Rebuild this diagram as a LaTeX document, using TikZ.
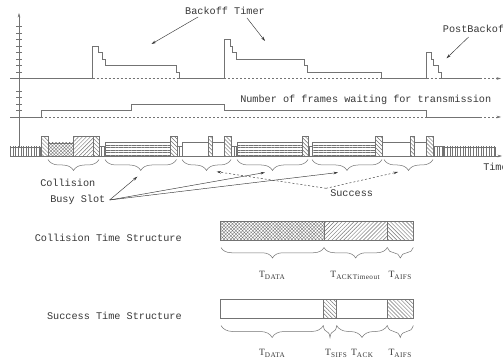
\documentclass[tikz,border=0pt]{standalone}
\usepackage{fontspec}
\setmainfont{Liberation Serif}
\setmonofont{Liberation Mono}
\usepackage{tikz}
\usetikzlibrary{arrows.meta, positioning, decorations.pathreplacing, patterns.meta, calc}

\definecolor{linegray}{gray}{0.45}
\definecolor{textgray}{gray}{0.22}

% T with a small upright subscript
\newcommand{\tsub}[1]{T\raisebox{-0.45ex}{\fontsize{7.2}{8}\selectfont\addfontfeature{LetterSpace=6}#1}}

\begin{document}
\begin{tikzpicture}[x=1pt, y=-1pt, >={Stealth[length=4.5pt, width=2.6pt]}, line width=0.5pt]

% --- Style Definitions ---
% Plot lines
\tikzstyle{plot_line}=[draw=linegray]
\tikzstyle{zero_line}=[draw=linegray, dash pattern=on 2pt off 2pt]
\tikzstyle{axis_arrow}=[->, draw=linegray]
% Text
\tikzstyle{mono_text}=[font=\ttfamily\fontsize{10.2}{12}\selectfont, text=textgray, inner sep=0pt]
\tikzstyle{t_label}=[font=\fontsize{9.6}{11}\selectfont, text=textgray, inner sep=0pt]
% Slots on the time line
\tikzstyle{slot_idle}=[draw=linegray, pattern={Lines[angle=90, distance=2.6pt, line width=0.45pt]}, pattern color=linegray]
\tikzstyle{slot_busy}=[draw=linegray, pattern={Lines[angle=0, distance=2.6pt, line width=0.45pt]}, pattern color=linegray]
\tikzstyle{slot_aifs}=[draw=linegray, pattern={Lines[angle=-45, distance=2.8pt, line width=0.45pt]}, pattern color=linegray]
\tikzstyle{slot_timeout}=[draw=linegray, pattern={Lines[angle=45, distance=2.8pt, line width=0.45pt]}, pattern color=linegray]
\tikzstyle{slot_coll}=[draw=linegray, pattern={Hatch[angle=45, distance=2.4pt, line width=0.35pt]}, pattern color=linegray]
\tikzstyle{slot_empty}=[draw=linegray, fill=white]
% Braces and pointers
\tikzstyle{brace_line}=[draw=linegray, decorate, decoration={brace, mirror, amplitude=11pt}]
\tikzstyle{busy_arrow}=[->, draw=textgray, line width=0.45pt]
\tikzstyle{succ_arrow}=[->, draw=textgray, line width=0.45pt, dash pattern=on 2pt off 2pt]

\fill[white] (0,0) rectangle (503,358);
\useasboundingbox (0,0) rectangle (503,358);

% --- 1. Axis ---
\draw[axis_arrow] (19,148) -- (19,13);
\draw[plot_line] (16,26.5) -- (22,26.5) (16,33) -- (22,33) (16,39.5) -- (22,39.5) (16,46) -- (22,46)
                 (16,52.5) -- (22,52.5) (16,59) -- (22,59) (16,65.5) -- (22,65.5) (16,72) -- (22,72);
\draw[plot_line] (16,91) -- (22,91) (16,97.5) -- (22,97.5) (16,104) -- (22,104) (16,110.5) -- (22,110.5);

% --- 2. Backoff timer ---
\draw[zero_line] (92.5,78.5) -- (179,78.5) (224,78.5) -- (381.5,78.5) (426.7,78.5) -- (441.7,78.5);
\draw[zero_line, ->] (480,78.5) -- (501,78.5);
\draw[plot_line] (10,78.5) -- (92.5,78.5) -- (92.5,46) -- (98.5,46) -- (98.5,52.5) -- (102,52.5) -- (102,59)
  -- (105,59) -- (105,65.5) -- (176,65.5) -- (176,72) -- (179,72) -- (179,78.5)
  -- (224,78.5) -- (224,39.5) -- (230,39.5) -- (230,46) -- (232.5,46) -- (232.5,52.5) -- (236.5,52.5)
  -- (236.5,59) -- (304,59) -- (304,65.5) -- (307,65.5) -- (307,72) -- (381.5,72) -- (381.5,78.5)
  -- (426.7,78.5) -- (426.7,52.5) -- (431.7,52.5) -- (431.7,59) -- (433.7,59) -- (433.7,65.5)
  -- (438,65.5) -- (438,72) -- (441.7,72) -- (441.7,78.5) -- (480,78.5);

\node[mono_text] (backoff) at (225,11) {Backoff Timer};
\node[mono_text, anchor=west] (postbo) at (442.7,29) {PostBackoff};
\coordinate (bo_first) at (151.5,44);
\coordinate (bo_second) at (265,41);
\coordinate (bo_post) at (446.5,58.3);
\draw[busy_arrow] ([xshift=-27pt, yshift=-2pt]backoff.south) -- (bo_first);
\draw[busy_arrow] ([xshift=22pt, yshift=-3pt]backoff.south) -- (bo_second);
\draw[busy_arrow] ([xshift=-8pt, yshift=-4pt]postbo.south) -- (bo_post);

% --- 3. Frames waiting ---
\draw[zero_line] (41,117) -- (426,117);
\draw[zero_line, ->] (480,117) -- (501,117);
\draw[plot_line] (10,117) -- (41,117) -- (41,110.5) -- (131,110.5) -- (131,104) -- (224,104)
  -- (224,110.5) -- (426,110.5) -- (426,117) -- (480,117);
\node[mono_text, anchor=west] (frames) at (240,100) {Number of frames waiting for transmission};

% --- 4. Time line with slots ---
\draw[slot_idle] (10,156) rectangle (40,147);
\draw[slot_aifs] (41,156) rectangle (48,136.5);
\draw[slot_coll] (48,156) rectangle (73,143);
\draw[slot_timeout] (73,156) rectangle (93,136.5);
\draw[slot_aifs] (93,156) rectangle (99,136.5);
\draw[slot_idle] (99,156) rectangle (105,146.5);
\draw[slot_busy] (105,156) rectangle (170,142.3);
\draw[slot_aifs] (170,156) rectangle (177,136.5);
\draw[slot_idle] (177,156) rectangle (182,146.5);
\draw[slot_empty] (182,156) rectangle (208,142.3);
\draw[slot_aifs] (208,156) rectangle (212,136.5);
\draw[slot_empty] (212,156) rectangle (224,142.3);
\draw[slot_aifs] (224,156) rectangle (231,136.5);
\draw[slot_idle] (231,156) rectangle (237,146.5);
\draw[slot_busy] (237,156) rectangle (302,142.3);
\draw[slot_aifs] (302,156) rectangle (308,136.5);
\draw[slot_idle] (308,156) rectangle (312,146.5);
\draw[slot_busy] (312,156) rectangle (375,142.3);
\draw[slot_aifs] (375,156) rectangle (382,136.5);
\draw[slot_empty] (382,156) rectangle (410,142.3);
\draw[slot_aifs] (410,156) rectangle (414,136.5);
\draw[slot_empty] (414,156) rectangle (426,142.3);
\draw[slot_aifs] (426,156) rectangle (433,136.5);
\draw[slot_idle] (433,156) rectangle (443,146.5);
\draw[slot_idle] (443,156) rectangle (495,147);
\draw[axis_arrow] (10,156) -- (502,156);
\node[mono_text, anchor=west] (time) at (483,167) {Time};

% Braces under the slots
\draw[brace_line] (48,159.5) -- (99,159.5);
\draw[brace_line] (105,159.5) -- (176.5,159.5);
\draw[brace_line] (182,159.5) -- (231,159.5);
\draw[brace_line] (237,159.5) -- (308,159.5);
\draw[brace_line] (312,159.5) -- (382,159.5);
\draw[brace_line] (384,159.5) -- (433,159.5);

% --- 5. Slot labels ---
\node[mono_text, anchor=west] (collision) at (40,183) {Collision};
\node[mono_text, anchor=west] (busy) at (50,200) {Busy Slot};
\node[mono_text, anchor=west] (success) at (330,193) {Success};

\coordinate (busy_a) at (137.3,176.7);
\coordinate (busy_b) at (265,172.5);
\coordinate (busy_c) at (338,172.5);
\coordinate (succ_a) at (216.7,171.7);
\coordinate (succ_b) at (398,172);

\draw[busy_arrow] ([xshift=4pt]busy.east) -- (busy_a);
\draw[busy_arrow] ([xshift=4pt]busy.east) -- (busy_b);
\draw[busy_arrow] ([xshift=4pt]busy.east) -- (busy_c);
\draw[succ_arrow] ([xshift=-4pt, yshift=1pt]success.north west) -- (succ_a);
\draw[succ_arrow] ([xshift=-4pt, yshift=1pt]success.north west) -- (succ_b);

% --- 6. Collision time structure ---
\node[mono_text, anchor=east] (coll_title) at (182,238) {Collision Time Structure};
\draw[slot_coll] (220.7,240.7) rectangle (324,221.7);
\draw[slot_timeout] (324,240.7) rectangle (387.3,221.7);
\draw[slot_aifs] (387.3,240.7) rectangle (413.3,221.7);
\draw[brace_line, decoration={amplitude=10.5pt}] (221,247.5) -- (324,247.5);
\draw[brace_line, decoration={amplitude=10.5pt}] (324,247.5) -- (387.3,247.5);
\draw[brace_line, decoration={amplitude=10.5pt}] (387.3,247.5) -- (413.3,247.5);
\node[t_label] (coll_data) at (272,275) {\tsub{DATA}};
\node[t_label] (coll_timeout) at (355,275) {\tsub{ACKTimeout}};
\node[t_label] (coll_aifs) at (400,275) {\tsub{AIFS}};

% --- 7. Success time structure ---
\node[mono_text, anchor=east] (succ_title) at (182,316) {Success Time Structure};
\draw[slot_empty] (220.7,318.3) rectangle (323.3,299.3);
\draw[slot_aifs] (323.3,318.3) rectangle (336.7,299.3);
\draw[slot_empty] (336.7,318.3) rectangle (387.3,299.3);
\draw[slot_aifs] (387.3,318.3) rectangle (413.3,299.3);
\draw[brace_line, decoration={amplitude=12pt}] (221,325.5) -- (323.3,325.5);
\draw[brace_line, decoration={amplitude=12pt}] (323.3,325.5) -- (336.7,325.5);
\draw[brace_line, decoration={amplitude=12pt}] (336.7,325.5) -- (387.3,325.5);
\draw[brace_line, decoration={amplitude=12pt}] (387.3,325.5) -- (413.3,325.5);
\node[t_label] (succ_data) at (272,353) {\tsub{DATA}};
\node[t_label] (succ_sifs) at (336,353) {\tsub{SIFS}};
\node[t_label] (succ_ack) at (362,353) {\tsub{ACK}};
\node[t_label] (succ_aifs) at (400,353) {\tsub{AIFS}};

\end{tikzpicture}
\end{document}
